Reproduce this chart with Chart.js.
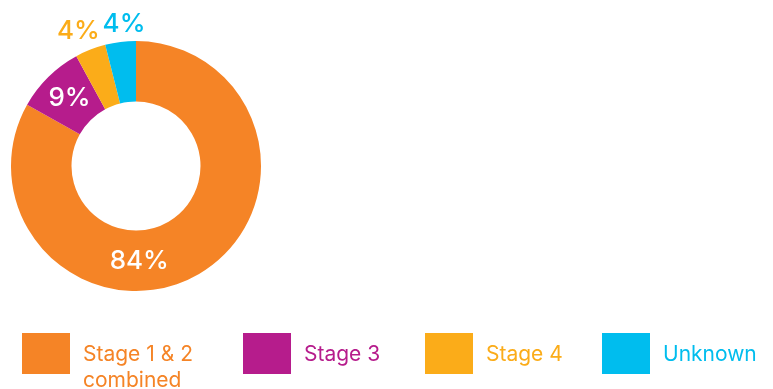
<!DOCTYPE html>
<html>
<head>
<meta charset="utf-8">
<script src="https://cdn.jsdelivr.net/npm/chart.js@4"></script>
<style>
  html, body { margin: 0; padding: 0; background: #ffffff; }
  #wrap { position: relative; width: 773px; height: 389px; }
</style>
</head>
<body>
<div id="wrap"><canvas id="c" width="773" height="389"></canvas></div>
<script>
const categories = ["Stage 1 & 2 combined", "Stage 3", "Stage 4", "Unknown"];
const legendLines = [["Stage 1 & 2", "combined"], ["Stage 3"], ["Stage 4"], ["Unknown"]];
const shares = [84, 9, 4, 4];
const valueLabels = ["84%", "9%", "4%", "4%"];
const colors = ["#F58426", "#B61C8C", "#FBAC19", "#00BDEE"];

const FONT = "Inter, 'Open Sans', sans-serif";

const labelStyle = [
  { inside: true, angle: 178, color: "#ffffff" },
  { inside: true, angle: null, color: "#ffffff" },
  { inside: false, offset: 22, dx: -4, dy: 2 },
  { inside: false, offset: 20, dx: 6, dy: 2 }
];

const arcLabels = {
  id: "arcLabels",
  afterDatasetsDraw(chart) {
    const ctx = chart.ctx;
    const meta = chart.getDatasetMeta(0);
    ctx.save();
    ctx.font = "500 26px " + FONT;
    ctx.textAlign = "center";
    ctx.textBaseline = "middle";
    meta.data.forEach((arc, i) => {
      const p = arc.getProps(["x", "y", "startAngle", "endAngle", "innerRadius", "outerRadius"], true);
      const st = labelStyle[i];
      let ang = (p.startAngle + p.endAngle) / 2;
      if (st.angle !== null && st.angle !== undefined) {
        ang = st.angle * Math.PI / 180 - Math.PI / 2;
      }
      let r, color;
      if (st.inside) {
        r = (p.innerRadius + p.outerRadius) / 2;
        color = st.color;
      } else {
        r = p.outerRadius + st.offset;
        color = colors[i];
      }
      const x = p.x + Math.cos(ang) * r + (st.dx || 0);
      const y = p.y + Math.sin(ang) * r + (st.dy || 0);
      ctx.fillStyle = color;
      ctx.fillText(valueLabels[i], x, y);
    });
    ctx.restore();
  }
};

const legendX = [22, 243, 425, 602];
const customLegend = {
  id: "customLegend",
  afterDraw(chart) {
    const ctx = chart.ctx;
    ctx.save();
    ctx.font = "400 21px " + FONT;
    ctx.textAlign = "left";
    ctx.textBaseline = "alphabetic";
    categories.forEach((c, i) => {
      const x = legendX[i];
      ctx.fillStyle = colors[i];
      ctx.fillRect(x, 333, 48, 41);
      legendLines[i].forEach((line, j) => {
        ctx.fillText(line, x + 61, 361 + j * 26);
      });
    });
    ctx.restore();
  }
};

new Chart(document.getElementById("c"), {
  type: "doughnut",
  data: {
    labels: categories,
    datasets: [{
      data: shares,
      backgroundColor: colors,
      borderWidth: 0,
      hoverOffset: 0
    }]
  },
  options: {
    responsive: false,
    animation: false,
    cutout: "51.6%",
    layout: { padding: { left: 11, top: 41, right: 512, bottom: 98 } },
    plugins: {
      legend: { display: false },
      tooltip: { enabled: false }
    }
  },
  plugins: [arcLabels, customLegend]
});
</script>
</body>
</html>
